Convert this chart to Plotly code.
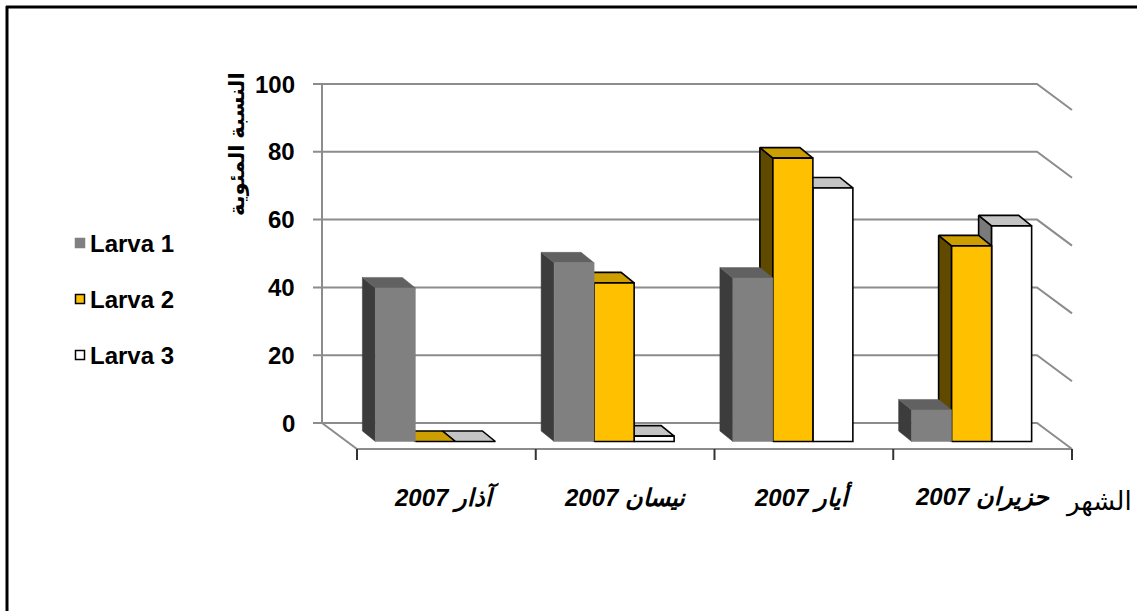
import plotly.graph_objects as go

# ---------------- data ----------------
months = ["2007 آذار", "2007 نيسان", "2007 أيار", "2007 حزيران"]
series_names = ["Larva 1", "Larva 2", "Larva 3"]
larva1 = [45.3, 52.7, 48.2, 9.3]
larva2 = [0.0, 46.8, 83.6, 57.7]
larva3 = [0.0, 1.6, 74.8, 63.6]
y_ticks = [0, 20, 40, 60, 80, 100]
y_title = "النسبة المئوية"
x_title = "الشهر"

# ---------------- styling / geometry (pixel based) ----------------
W, H = 1137, 611
PX_X = 178.75          # px per category
PX_Y = 3.39            # px per percent
X0_PX, Y0_PX = 322, 423  # back-wall origin in pixels

def ux(px):
    return px / PX_X

def uy(px):
    return px / PX_Y

x_range = [-X0_PX / PX_X, (W - X0_PX) / PX_X]
y_range = [-(H - Y0_PX) / PX_Y, Y0_PX / PX_Y]

DX, DY = ux(35), -uy(26)          # full floor depth (back -> front)
FY = -uy(18.5)                    # bar front plane vertical offset from back wall
BDX, BDY = ux(13), uy(10.5)       # bar depth (front -> back, up-left)
BW = ux(40)                        # bar width
CENTER_SHIFT = ux(24)

styles = [
    dict(front="#808080", side="#3c3c3c", top="#616161", line=None),
    dict(front="#FFC000", side="#5f4a00", top="#CC9E00", line="#000000"),
    dict(front="#FFFFFF", side="#7a7a7a", top="#C4C4C4", line="#000000"),
]
GRID = "#8c8c8c"
FONT = "Liberation Sans, Arial, DejaVu Sans, sans-serif"

fig = go.Figure()

def line(xs, ys, color=GRID, width=2):
    fig.add_trace(go.Scatter(x=xs, y=ys, mode="lines", line=dict(color=color, width=width),
                             hoverinfo="skip", showlegend=False))

# back wall gridlines + right side wall + tick stubs
for v in y_ticks:
    line([-ux(9), 4, 4 + DX], [v, v, v + DY])
# left wall edge
line([0, 0], [0, 100])
# floor
line([0, DX, 4 + DX, 4 + DX], [0, DY, DY, DY])
# front axis ticks
for i in range(len(months) + 1):
    line([i + DX, i + DX], [DY, DY - uy(11)], color="#333333", width=2)

def poly(xs, ys, fill, lc):
    fig.add_trace(go.Scatter(
        x=xs + [xs[0]], y=ys + [ys[0]], mode="lines", fill="toself",
        fillcolor=fill,
        line=dict(color=lc if lc else fill, width=1.6 if lc else 0.5),
        hoverinfo="skip", showlegend=False))

data = [larva1, larva2, larva3]
for ci in range(len(months)):
    c = ci + 0.5 + CENTER_SHIFT
    for si in [2, 1, 0]:
        v = data[si][ci]
        st = styles[si]
        x0 = c - 1.5 * BW + si * BW
        x1 = x0 + BW
        b = FY
        t = FY + v
        lc = st["line"]
        # side face (left)
        poly([x0, x0, x0 - BDX, x0 - BDX], [b, t, t + BDY, b + BDY], st["side"], lc)
        # top face
        poly([x0, x1, x1 - BDX, x0 - BDX], [t, t, t + BDY, t + BDY], st["top"], lc)
        # front face
        if v > 0:
            poly([x0, x1, x1, x0], [b, b, t, t], st["front"], lc)

annotations = []
# y tick labels
for v in y_ticks:
    annotations.append(dict(x=-ux(25), y=v, xref="x", yref="y", text=str(v), showarrow=False,
                            xanchor="right", yanchor="middle",
                            font=dict(family=FONT, size=24, color="#000000", weight="bold")))
# category labels
for ci, m in enumerate(months):
    annotations.append(dict(x=ci + 0.5 + DX, y=DY - uy(48), xref="x", yref="y",
                            text="<b><i>" + m + "</i></b>", showarrow=False,
                            xanchor="center", yanchor="middle",
                            font=dict(family=FONT, size=24, color="#000000")))
# x title
annotations.append(dict(x=(W - 3 - X0_PX) / PX_X, y=DY - uy(52), xref="x", yref="y", text=x_title,
                        showarrow=False, xanchor="right", yanchor="middle",
                        font=dict(family=FONT, size=26, color="#000000")))
# y title
annotations.append(dict(x=-ux(85), y=100 - uy(60), xref="x", yref="y", text="<b>" + y_title + "</b>",
                        showarrow=False, textangle=-90, xanchor="center", yanchor="middle",
                        font=dict(family=FONT, size=21, color="#000000")))

# legend (manual)
shapes = []
leg_y_px = [243, 299, 355]
for si, name in enumerate(series_names):
    ypx = leg_y_px[si]
    yc = (Y0_PX - ypx) / PX_Y
    xc = (80 - X0_PX) / PX_X
    st = styles[si]
    shapes.append(dict(type="rect", xref="x", yref="y",
                       x0=xc - ux(4.5), x1=xc + ux(4.5), y0=yc - uy(4.5), y1=yc + uy(4.5),
                       fillcolor=st["front"],
                       line=dict(color=st["line"] if st["line"] else st["front"], width=1.5)))
    annotations.append(dict(x=(88 - X0_PX) / PX_X, y=yc, xref="x", yref="y", text="<b>" + name + "</b>",
                            showarrow=False, xanchor="left", yanchor="middle",
                            font=dict(family=FONT, size=24, color="#000000")))

# outer frame (left and top visible)
shapes.append(dict(type="line", xref="paper", yref="paper", x0=7 / W, x1=7 / W, y0=0, y1=1 - 6 / H,
                   line=dict(color="#000000", width=3)))
shapes.append(dict(type="line", xref="paper", yref="paper", x0=6 / W, x1=1, y0=1 - 7 / H, y1=1 - 7 / H,
                   line=dict(color="#000000", width=3)))

fig.update_layout(
    width=W, height=H,
    margin=dict(l=0, r=0, t=0, b=0),
    paper_bgcolor="#FFFFFF", plot_bgcolor="#FFFFFF",
    showlegend=False,
    xaxis=dict(range=x_range, visible=False, fixedrange=True),
    yaxis=dict(range=y_range, visible=False, fixedrange=True),
    annotations=annotations,
    shapes=shapes,
)

fig.write_html("out.html")
